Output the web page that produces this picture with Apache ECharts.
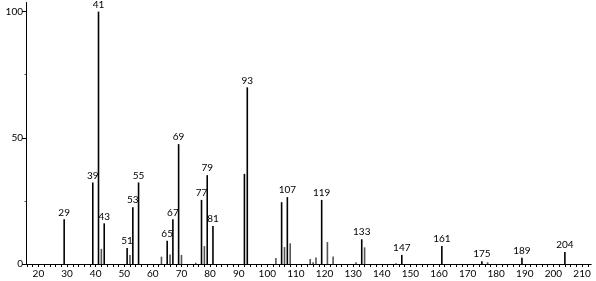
<!DOCTYPE html>
<html>
<head>
<meta charset="utf-8">
<script src="https://cdn.jsdelivr.net/npm/echarts@6/dist/echarts.min.js"></script>
<style>
html,body{margin:0;padding:0;background:#fff;}
#c{width:596px;height:281px;}
</style>
</head>
<body>
<div id="c"></div>
<script>
// m/z values and relative intensities
var mz =        [29, 39, 41, 42, 43, 51, 52, 53, 55, 63, 65, 66, 67, 69, 70, 75, 77, 78, 79, 81, 92, 93, 103, 105, 106, 107, 108, 115, 116, 117, 119, 121, 123, 131, 133, 134, 145, 147, 161, 175, 177, 189, 204];
var intensity = [17.7, 32.3, 100, 6.0, 16.1, 6.3, 3.6, 22.5, 32.3, 2.9, 9.2, 3.8, 17.7, 47.5, 3.6, 0.5, 25.4, 7.1, 35.2, 15.1, 35.7, 70.0, 2.4, 24.5, 6.7, 26.5, 8.2, 2.0, 0.7, 2.6, 25.4, 8.7, 3.0, 0.7, 9.8, 6.6, 0.3, 3.6, 7.1, 1.1, 0.7, 2.5, 4.8];
var labeledPeaks = [29, 39, 41, 43, 51, 53, 55, 65, 67, 69, 77, 79, 81, 93, 107, 119, 133, 147, 161, 175, 189, 204];
var darkPeaks = [92, 105];
var xTickLabels = [20, 30, 40, 50, 60, 70, 80, 90, 100, 110, 120, 130, 140, 150, 160, 170, 180, 190, 200, 210];
var yTickLabels = [0, 50, 100];
var yMinorTicks = [25, 75];

var xMinorTicks = [];
for (var t = 16; t <= 212; t += 2) xMinorTicks.push(t);

var FONT = 'Lato';
var data = mz.map(function (m, i) {
  var lab = labeledPeaks.indexOf(m) >= 0;
  var dark = lab || darkPeaks.indexOf(m) >= 0;
  return {
    value: [m, intensity[i]],
    itemStyle: { color: dark ? '#000' : '#555' },
    label: { show: lab }
  };
});

var chart = echarts.init(document.getElementById('c'), null, { renderer: 'canvas' });
chart.setOption({
  animation: false,
  backgroundColor: '#fff',
  grid: { left: 26, right: 4.8, top: 2.5, bottom: 17 },
  xAxis: {
    type: 'value', min: 15.66, max: 213.2,
    splitLine: { show: false },
    axisLine: { lineStyle: { color: '#000', width: 1 } },
    axisTick: { customValues: xMinorTicks, length: 3, lineStyle: { color: '#000' } },
    axisLabel: { customValues: xTickLabels, color: '#000', fontFamily: FONT, fontSize: 10, margin: 5 }
  },
  yAxis: [{
    type: 'value', min: 0, max: 103.6,
    splitLine: { show: false },
    axisLine: { show: true, lineStyle: { color: '#000', width: 1 } },
    axisTick: { customValues: yTickLabels, length: 4, lineStyle: { color: '#000' } },
    axisLabel: { customValues: yTickLabels, color: '#000', fontFamily: FONT, fontSize: 10, margin: 3 }
  }, {
    type: 'value', min: 0, max: 103.6, position: 'left',
    splitLine: { show: false },
    axisLine: { show: false },
    axisTick: { customValues: yMinorTicks, length: 1.5, lineStyle: { color: '#555' } },
    axisLabel: { show: false }
  }],
  series: [{
    type: 'bar',
    data: data,
    barWidth: 1.6,
    label: { position: 'top', distance: 2, color: '#000', fontFamily: FONT, fontSize: 10,
      formatter: function (p) { return String(p.value[0]); } }
  }]
});
</script>
</body>
</html>
